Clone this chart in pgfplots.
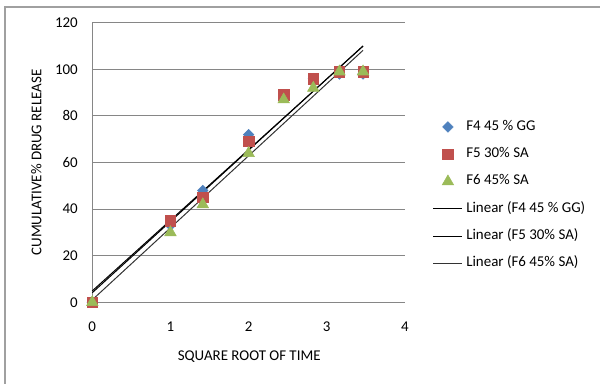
\documentclass[border=0pt]{standalone}
\usepackage{pgfplots}
\usepackage{pgfplotstable}
\pgfplotsset{compat=1.18}
\usepackage{fontspec}
\setmainfont{Carlito}
\definecolor{exblue}{HTML}{4F81BD}
\definecolor{exred}{HTML}{C0504D}
\definecolor{exgreen}{HTML}{9BBB59}
\definecolor{gridgray}{HTML}{868686}
\definecolor{framegray}{HTML}{A0A0A0}
\pgfplotstableread{
x F4 F5 F6
0 0 0 0
1 33 35 30
1.414 48 45 42
2 72 69 64
2.449 89 89 87
2.828 96 96 92
3.162 98 99 99
3.464 98 99 99
}\data
\newcommand{\cf}{\fontsize{11.2}{13}\selectfont}
\begin{document}
\begin{tikzpicture}
\path[use as bounding box] (0,0) rectangle (450pt,287.25pt);
\draw[framegray, line width=1pt] (3.75pt,-2pt) -- (3.75pt,282pt) -- (452pt,282pt);
\begin{axis}[
  at={(69.2pt,60.5pt)}, anchor=south west,
  scale only axis, width=234.5pt, height=209.7pt,
  xmin=0, xmax=4, ymin=0, ymax=120,
  xtick={0,1,2,3,4}, ytick={0,20,...,120},
  axis lines*=left,
  axis line style={gridgray, line width=0.75pt},
  major tick length=0pt,
  ymajorgrids, grid style={gridgray, line width=0.75pt},
  clip=false,
  /pgf/number format/assume math mode=true,
  tick label style={font=\cf, black},
  xticklabel style={anchor=base, inner sep=0pt, yshift=-22pt},
  yticklabel style={anchor=east, inner sep=0pt, xshift=-10.7pt},
  xlabel={SQUARE ROOT OF TIME},
  xlabel style={at={(axis description cs:0.502,-0.194)}, anchor=center, font=\cf},
  ylabel={CUMULATIVE\% DRUG RELEASE},
  ylabel style={at={(axis description cs:-0.1785,0.5)}, anchor=center, font=\cf},
  legend style={at={(1.0886,0.652)}, anchor=north west, draw=none, fill=none,
    inner sep=0pt, row sep=10.5pt, column sep=2.5pt, font=\cf,
    nodes={inner sep=0pt, text height=7.5pt, text depth=2.5pt}},
  legend cell align=left,
  legend image code/.code={\draw[mark repeat=2,mark phase=2,#1] plot coordinates {(0pt,0pt) (10.9pt,0pt) (21.8pt,0pt)};},
]
\addplot[only marks, exblue, mark=square*, mark size=2.8pt, mark options={rotate=45, fill=exblue, draw=exblue}] table[x=x,y=F4]{\data};
\addlegendentry{F4 45 \% GG}
\addplot[only marks, exred, mark=square*, mark size=3.9pt, mark options={fill=exred, draw=exred}] table[x=x,y=F5]{\data};
\addlegendentry{F5 30\% SA}
\addplot[only marks, exgreen, mark=triangle*, mark size=5pt, mark options={fill=exgreen, draw=exgreen}] table[x=x,y=F6]{\data};
\addlegendentry{F6 45\% SA}
\addplot[black, line width=0.75pt, no marks] table[x=x, y={create col/linear regression={y=F4}}]{\data};
\addlegendentry{Linear (F4 45 \% GG)}
\addplot[black, line width=0.75pt, no marks] table[x=x, y={create col/linear regression={y=F5}}]{\data};
\addlegendentry{Linear (F5 30\% SA)}
\addplot[black!80, line width=0.75pt, no marks] table[x=x, y={create col/linear regression={y=F6}}]{\data};
\addlegendentry{Linear (F6 45\% SA)}
\end{axis}
\end{tikzpicture}
\end{document}
